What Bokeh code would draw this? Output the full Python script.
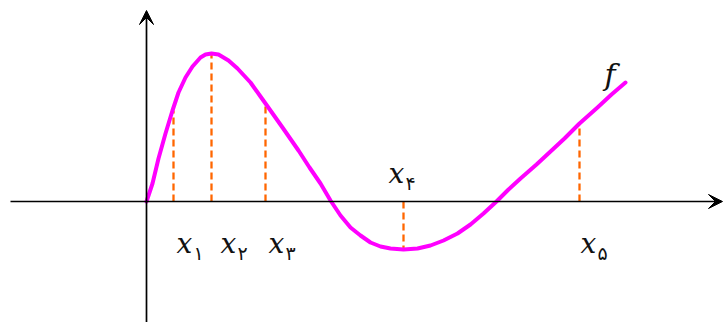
from bokeh.plotting import figure
from bokeh.models import Range1d, Arrow, VeeHead
from bokeh.core.properties import value
from bokeh.embed import file_html
from bokeh.resources import INLINE

# curve f (units: px relative to origin)
curve_x = [0, 6, 12, 19, 26, 32, 39, 46, 54, 59, 65, 72, 77, 82, 91, 104, 114, 119, 136, 152,
           163, 174, 184, 194, 204, 214, 224, 234, 244, 257, 271, 284, 297, 311, 324, 337,
           350, 362, 374, 390, 404, 418, 433, 451, 465, 479]
curve_y = [0, 18, 43, 68, 91, 109, 124, 135, 144, 147, 148, 147, 144, 141, 133, 119, 105, 98, 74, 51,
           34, 18, 1, -14, -26, -34, -41, -45, -47, -48, -47, -44, -39, -32, -23, -12,
           0, 12, 23, 37, 50, 63, 78, 94, 107, 119]

# marked points x1..x5 and f values there
mark_x = [27, 65, 119, 257, 433]
mark_y = [91, 148, 98, -48, 78]
mark_names = ["۱", "۲", "۳", "۴", "۵"]
label_dx = [3, 9, 3, -15, 1]
label_y = [-42, -42, -42, 28, -42]

W, H = 725, 322
p = figure(width=W, height=H, output_backend="svg", toolbar_location=None,
           x_range=Range1d(-146, 579), y_range=Range1d(-121, 201), min_border=0)
p.axis.visible = False
p.grid.visible = False
p.outline_line_color = None
p.background_fill_color = "white"

# axes with arrows
p.add_layout(Arrow(end=VeeHead(size=14, fill_color="black", line_color="black"),
                   x_start=-136, y_start=0, x_end=576, y_end=0, line_width=1.7, line_color="black"))
p.add_layout(Arrow(end=VeeHead(size=14, fill_color="black", line_color="black"),
                   x_start=0, y_start=-121, x_end=0, y_end=191, line_width=1.7, line_color="black"))

# dashed guide lines
p.segment(x0=mark_x, y0=[0] * len(mark_x), x1=mark_x, y1=mark_y,
          line_color="#FF6600", line_width=2.3, line_dash="7 4")

# curve
p.line(curve_x, curve_y, line_color="#FF00FF", line_width=4, line_join="round", line_cap="round")

# labels
lx = [m + d for m, d in zip(mark_x, label_dx)]
p.text(x=lx, y=label_y, text=["x"] * 5, text_font=value("DejaVu Serif"),
       text_font_style="italic", text_font_size="28px", text_color="#111111",
       text_baseline="alphabetic", text_align="left")
p.text(x=[v + 17 for v in lx], y=[v - 9 for v in label_y], text=mark_names,
       text_font=value("DejaVu Sans"), text_font_size="19px", text_color="#111111",
       text_baseline="alphabetic", text_align="left")
p.text(x=[458], y=[127], text=["f"], text_font=value("DejaVu Serif"),
       text_font_style="italic", text_font_size="30px", text_color="#111111",
       text_baseline="alphabetic", text_align="left")

open("out.html", "w").write(file_html(p, INLINE))
